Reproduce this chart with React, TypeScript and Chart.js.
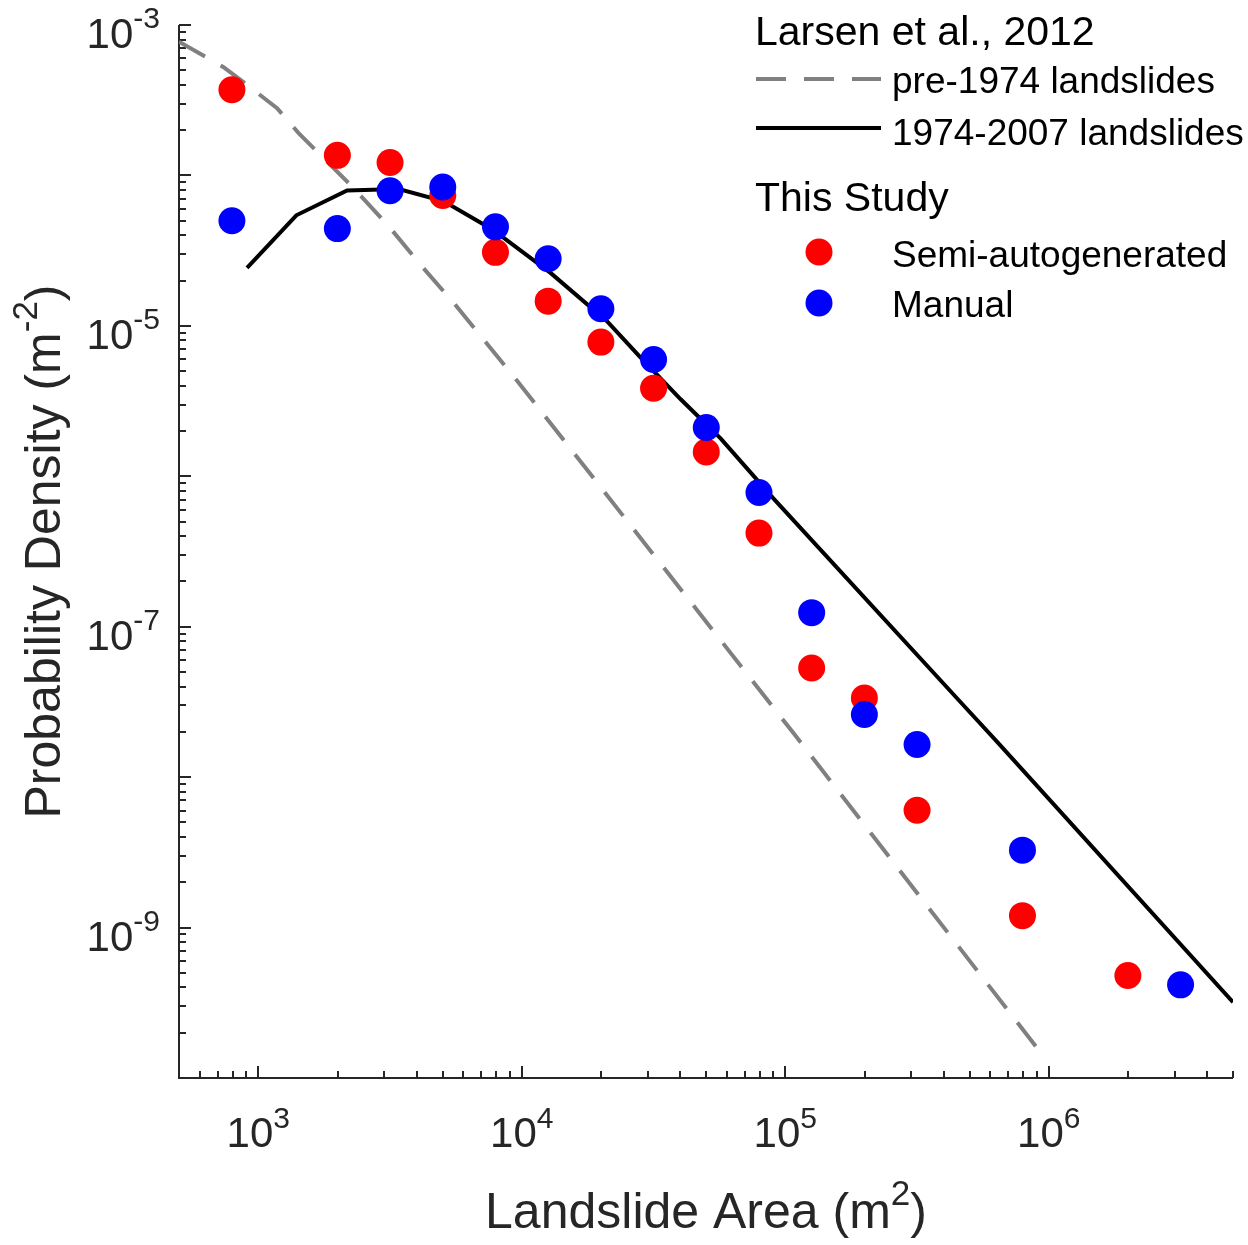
import React, { useEffect, useRef } from 'react';
import Chart from 'chart.js/auto';

const FONT = '"Liberation Sans", Arial, Helvetica, sans-serif';
const AXIS_COLOR = '#262626';

// Larsen et al., 2012 - pre-1974 landslides (dashed grey)
const oldArea = [500, 738, 906, 1178, 1422, 1719, 2300, 3126, 4125, 5515, 9610, 18240, 107900, 916000];
const oldDensity = [7.75e-4, 5.24e-4, 4.0e-4, 2.8e-4, 1.91e-4, 1.37e-4, 8.24e-5, 4.59e-5, 2.55e-5, 1.42e-5, 4.3e-6, 1.03e-6, 1.94e-8, 1.53e-10];

// Larsen et al., 2012 - 1974-2007 landslides (solid black)
const recentArea = [906, 1394, 2172, 3412, 5060, 7730, 12850, 21090, 28250, 40080, 56900, 90600, 450000, 638000, 5000000];
const recentDensity = [2.43e-5, 5.43e-5, 7.95e-5, 8.13e-5, 6.73e-5, 4.37e-5, 2.25e-5, 1.07e-5, 6.14e-6, 3.25e-6, 1.78e-6, 7.05e-7, 3.32e-8, 1.71e-8, 3.19e-10];

// This study
const semiArea = [794, 1995, 3162, 5012, 7943, 12589, 19953, 31623, 50119, 79433, 125893, 199526, 316228, 794328, 1995262];
const semiDensity = [3.71e-4, 1.36e-4, 1.22e-4, 7.36e-5, 3.08e-5, 1.46e-5, 7.8e-6, 3.85e-6, 1.45e-6, 4.19e-7, 5.31e-8, 3.36e-8, 6.03e-9, 1.2e-9, 4.8e-10];
const manualArea = [794, 1995, 3162, 5012, 7943, 12589, 19953, 31623, 50119, 79433, 125893, 199526, 316228, 794328, 3162278];
const manualDensity = [5.0e-5, 4.43e-5, 7.91e-5, 8.37e-5, 4.55e-5, 2.79e-5, 1.3e-5, 5.98e-6, 2.11e-6, 7.8e-7, 1.24e-7, 2.61e-8, 1.65e-8, 3.27e-9, 4.16e-10];

// tick labels (exponents of 10)
const xLabelExps = [3, 4, 5, 6];
const yLabelExps = [-3, -5, -7, -9];

const toPoints = (xs: number[], ys: number[]) => xs.map((x, i) => ({ x, y: ys[i] }));

const drawPower = (
  ctx: CanvasRenderingContext2D, base: string, exp: string, x: number, y: number,
  baseSize: number, supSize: number, raise: number, align: 'center' | 'right'
) => {
  ctx.font = `${baseSize}px ${FONT}`;
  const wb = ctx.measureText(base).width;
  ctx.font = `${supSize}px ${FONT}`;
  const we = ctx.measureText(exp).width;
  const start = align === 'center' ? x - (wb + we) / 2 : x - (wb + we);
  ctx.textAlign = 'left';
  ctx.textBaseline = 'alphabetic';
  ctx.font = `${baseSize}px ${FONT}`;
  ctx.fillText(base, start, y);
  ctx.font = `${supSize}px ${FONT}`;
  ctx.fillText(exp, start + wb, y - raise);
};

// text like "Landslide Area (m" + sup "2" + ")" centred at x
const drawTitle = (ctx: CanvasRenderingContext2D, pre: string, sup: string, post: string, cx: number, y: number) => {
  const size = 50;
  const supSize = 35;
  ctx.font = `${size}px ${FONT}`;
  const w1 = ctx.measureText(pre).width;
  const w3 = ctx.measureText(post).width;
  ctx.font = `${supSize}px ${FONT}`;
  const w2 = ctx.measureText(sup).width;
  let x = cx - (w1 + w2 + w3) / 2;
  ctx.textAlign = 'left';
  ctx.textBaseline = 'alphabetic';
  ctx.font = `${size}px ${FONT}`;
  ctx.fillText(pre, x, y);
  x += w1;
  ctx.font = `${supSize}px ${FONT}`;
  ctx.fillText(sup, x, y - 23);
  x += w2;
  ctx.font = `${size}px ${FONT}`;
  ctx.fillText(post, x, y);
};

const axesPlugin = {
  id: 'matlabAxes',
  beforeDatasetsDraw(chart: any) {
    const { ctx, chartArea, scales } = chart;
    const { left, right, top, bottom } = chartArea;
    const xs = scales.x;
    const ys = scales.y;
    ctx.save();
    ctx.strokeStyle = AXIS_COLOR;
    ctx.lineWidth = 2;
    ctx.beginPath();
    ctx.moveTo(left, top);
    ctx.lineTo(left, bottom);
    ctx.lineTo(right, bottom);
    ctx.stroke();

    // y ticks
    ctx.beginPath();
    for (let e = -10; e <= -3; e++) {
      for (let m = 1; m <= 9; m++) {
        const v = m * Math.pow(10, e);
        if (v < ys.min * 0.999 || v > ys.max * 1.001) continue;
        const py = Math.round(ys.getPixelForValue(v));
        const len = m === 1 ? 12 : 7;
        ctx.moveTo(left, py);
        ctx.lineTo(left + len, py);
      }
    }
    // x ticks
    for (let e = 2; e <= 6; e++) {
      for (let m = 1; m <= 9; m++) {
        const v = m * Math.pow(10, e);
        if (v < xs.min * 0.999 || v > xs.max * 1.001) continue;
        const px = Math.round(xs.getPixelForValue(v));
        const len = m === 1 ? 12 : 7;
        ctx.moveTo(px, bottom);
        ctx.lineTo(px, bottom - len);
      }
    }
    ctx.stroke();

    ctx.fillStyle = AXIS_COLOR;
    yLabelExps.forEach((e) => {
      const py = ys.getPixelForValue(Math.pow(10, e));
      drawPower(ctx, '10', String(e), left - 19, py + 23, 42, 30, 20, 'right');
    });
    xLabelExps.forEach((e) => {
      const px = xs.getPixelForValue(Math.pow(10, e));
      drawPower(ctx, '10', String(e), px, bottom + 69, 42, 30, 19, 'center');
    });

    drawTitle(ctx, 'Landslide Area (m', '2', ')', (left + right) / 2, 1228);
    ctx.save();
    ctx.translate(60, (top + bottom) / 2);
    ctx.rotate(-Math.PI / 2);
    drawTitle(ctx, 'Probability Density (m', '-2', ')', 0, 0);
    ctx.restore();
    ctx.restore();
  },
  afterDraw(chart: any) {
    const { ctx } = chart;
    ctx.save();
    ctx.fillStyle = '#000000';
    ctx.textAlign = 'left';
    ctx.textBaseline = 'alphabetic';
    ctx.font = `41px ${FONT}`;
    ctx.fillText('Larsen et al., 2012', 755, 45);
    ctx.fillText('This Study', 755, 211);
    ctx.font = `37px ${FONT}`;
    ctx.fillText('pre-1974 landslides', 892, 93);
    ctx.fillText('1974-2007 landslides', 892, 145);
    ctx.fillText('Semi-autogenerated', 892, 267);
    ctx.fillText('Manual', 892, 317);

    ctx.lineWidth = 4;
    ctx.lineCap = 'butt';
    ctx.strokeStyle = '#808080';
    ctx.setLineDash([30, 18]);
    ctx.beginPath();
    ctx.moveTo(756, 79);
    ctx.lineTo(881, 79);
    ctx.stroke();
    ctx.setLineDash([]);
    ctx.strokeStyle = '#000000';
    ctx.beginPath();
    ctx.moveTo(756, 128);
    ctx.lineTo(881, 128);
    ctx.stroke();

    ctx.fillStyle = '#ff0000';
    ctx.beginPath();
    ctx.arc(819, 252, 13.5, 0, Math.PI * 2);
    ctx.fill();
    ctx.fillStyle = '#0000ff';
    ctx.beginPath();
    ctx.arc(819, 303, 13.5, 0, Math.PI * 2);
    ctx.fill();
    ctx.restore();
  },
};

const App: React.FC = () => {
  const canvasRef = useRef<HTMLCanvasElement | null>(null);
  const chartRef = useRef<Chart | null>(null);

  useEffect(() => {
    const ctx = canvasRef.current?.getContext('2d');
    if (ctx) {
      chartRef.current = new Chart(ctx, {
        type: 'scatter',
        data: {
          datasets: [
            {
              label: 'Manual',
              data: toPoints(manualArea, manualDensity),
              backgroundColor: '#0000ff',
              borderWidth: 0,
              pointRadius: 13.5,
              order: 0,
            },
            {
              label: 'Semi-autogenerated',
              data: toPoints(semiArea, semiDensity),
              backgroundColor: '#ff0000',
              borderWidth: 0,
              pointRadius: 13.5,
              order: 1,
            },
            {
              label: '1974-2007 landslides',
              data: toPoints(recentArea, recentDensity),
              showLine: true,
              borderColor: '#000000',
              borderWidth: 4,
              pointRadius: 0,
              tension: 0,
              order: 2,
            },
            {
              label: 'pre-1974 landslides',
              data: toPoints(oldArea, oldDensity),
              showLine: true,
              borderColor: '#808080',
              borderWidth: 4,
              borderDash: [30, 18],
              borderCapStyle: 'butt',
              pointRadius: 0,
              tension: 0,
              order: 3,
            },
          ],
        },
        options: {
          animation: false,
          responsive: false,
          layout: { padding: { left: 179, right: 15, top: 25, bottom: 167 } },
          plugins: {
            legend: { display: false },
            tooltip: { enabled: false },
          },
          scales: {
            x: { type: 'logarithmic', min: 500, max: 5e6, display: false },
            y: { type: 'logarithmic', min: 1e-10, max: 1e-3, display: false },
          },
        },
        plugins: [axesPlugin],
      });
    }
    return () => {
      if (chartRef.current) chartRef.current.destroy();
    };
  }, []);

  return (
    <div style={{ position: 'absolute', left: 0, top: 0, width: 1248, height: 1245, background: '#fff' }}>
      <canvas ref={canvasRef} width={1248} height={1245}></canvas>
    </div>
  );
};

export default App;
